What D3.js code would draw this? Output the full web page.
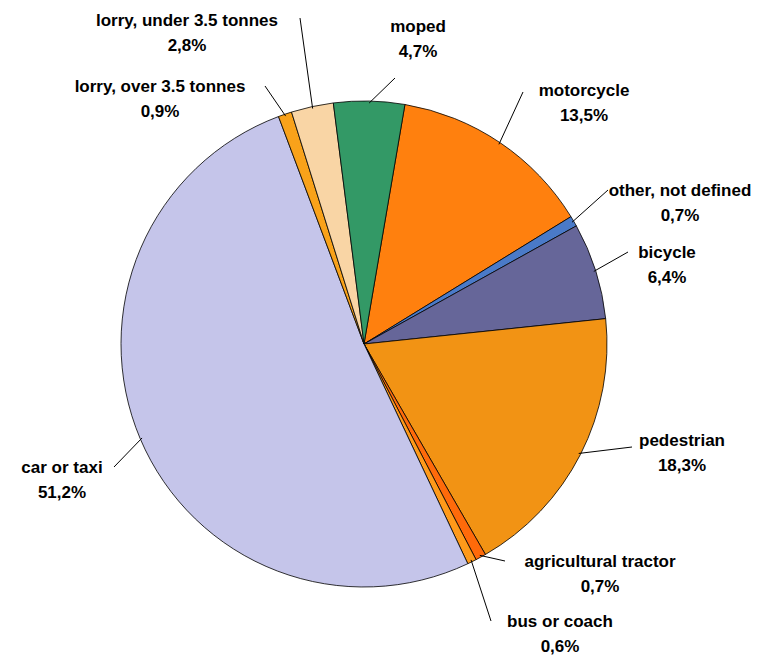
<!DOCTYPE html>
<html><head><meta charset="utf-8">
<script src="https://cdn.jsdelivr.net/npm/d3@7"></script>
<style>body{margin:0;background:#fff}text{font-family:Arial,"Liberation Sans",sans-serif;font-weight:bold;font-size:17px;fill:#000}</style>
</head><body><svg id="c" width="784" height="657"></svg>
<script>
const categories = ["motorcycle","other, not defined","bicycle","pedestrian","agricultural tractor","bus or coach","car or taxi","lorry, over 3.5 tonnes","lorry, under 3.5 tonnes","moped"];
const values = [13.5,0.7,6.4,18.3,0.7,0.6,51.2,0.9,2.8,4.7];
const labels = ["13,5%","0,7%","6,4%","18,3%","0,7%","0,6%","51,2%","0,9%","2,8%","4,7%"];
const colors = ["#ff800e","#4a7ac8","#666699","#f29314","#ff6a0a","#ff9a1a","#c5c5ea","#f9a21a","#f9d5a5","#339966"];
// label layout: text centre, leader end point
const layout = [
  {x:584,y:90,lx:523,ly:92},{x:680,y:190,lx:608,ly:190},{x:667,y:252,lx:628,ly:252},
  {x:682,y:440,lx:632,ly:447},{x:600,y:561,lx:505,ly:561},{x:560,y:621,lx:491,ly:621},
  {x:62,y:467,lx:114,ly:467},{x:160,y:86,lx:265,ly:86},{x:187,y:20,lx:300,ly:18},{x:418,y:26,lx:395,ly:78}
];
const cx=364, cy=344, r=243;
const svg=d3.select("#c");
const g=svg.append("g").attr("transform",`translate(${cx},${cy})`);
const start=9.7*Math.PI/180;
const pie=d3.pie().sort(null).value(d=>d).startAngle(start).endAngle(start+2*Math.PI);
const arcs=pie(values);
const arc=d3.arc().innerRadius(0).outerRadius(r);
g.selectAll("path").data(arcs).join("path").attr("d",arc).attr("fill",(d,i)=>colors[i]).attr("stroke","#000").attr("stroke-width",0.8);
arcs.forEach((a,i)=>{
  const m=(a.startAngle+a.endAngle)/2, L=layout[i];
  const px=cx+Math.sin(m)*(r-2), py=cy-Math.cos(m)*(r-2);
  svg.append("line").attr("x1",px).attr("y1",py).attr("x2",L.lx).attr("y2",L.ly).attr("stroke","#000").attr("stroke-width",1);
  const t=svg.append("text").attr("text-anchor","middle").attr("x",L.x).attr("y",L.y+6);
  t.append("tspan").attr("x",L.x).text(categories[i]);
  t.append("tspan").attr("x",L.x).attr("dy",25).text(labels[i]);
});
</script></body></html>
